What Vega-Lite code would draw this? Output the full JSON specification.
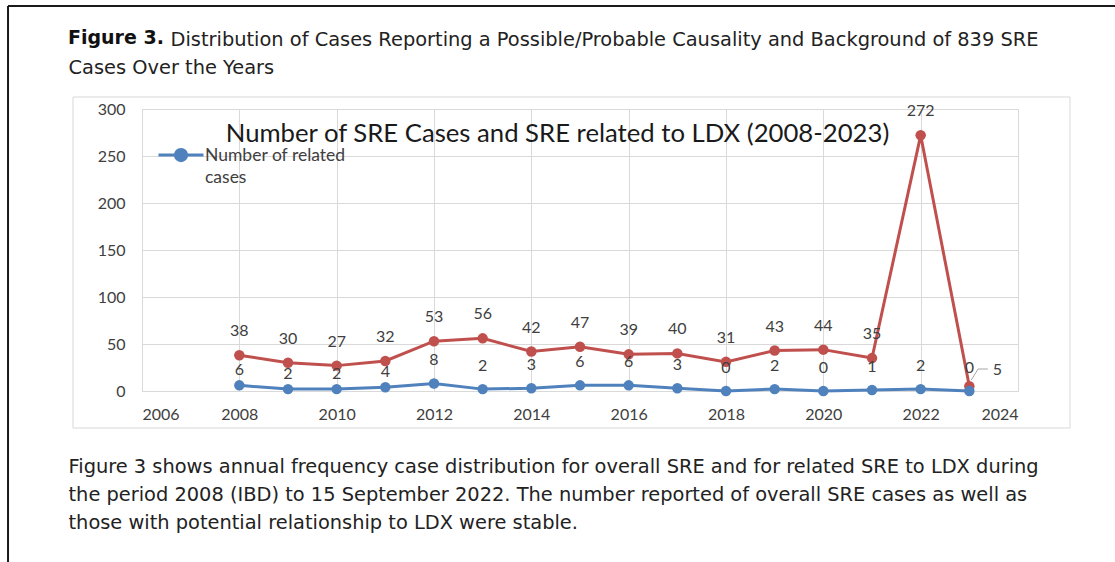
{
  "$schema": "https://vega.github.io/schema/vega-lite/v6.json",
  "width": 876,
  "height": 282,
  "autosize": "none",
  "padding": {"left": 142, "top": 109, "right": 97, "bottom": 171},
  "background": "white",
  "config": {
    "view": {"stroke": null},
    "axis": {
      "labelFont": "Lato", "labelFontSize": 16, "labelColor": "#404040",
      "ticks": false, "tickSize": 0,
      "gridColor": "#d9d9d9", "gridWidth": 1,
      "domainColor": "#d9d9d9", "domainWidth": 1,
      "titleFontWeight": "normal"
    }
  },
  "datasets": {
    "sre": [
      {"year": 2008, "total": 38, "related": 6},
      {"year": 2009, "total": 30, "related": 2},
      {"year": 2010, "total": 27, "related": 2},
      {"year": 2011, "total": 32, "related": 4},
      {"year": 2012, "total": 53, "related": 8},
      {"year": 2013, "total": 56, "related": 2},
      {"year": 2014, "total": 42, "related": 3},
      {"year": 2015, "total": 47, "related": 6},
      {"year": 2016, "total": 39, "related": 6},
      {"year": 2017, "total": 40, "related": 3},
      {"year": 2018, "total": 31, "related": 0},
      {"year": 2019, "total": 43, "related": 2},
      {"year": 2020, "total": 44, "related": 0},
      {"year": 2021, "total": 35, "related": 1},
      {"year": 2022, "total": 272, "related": 2},
      {"year": 2023, "total": 5, "related": 0}
    ]
  },
  "data": {"name": "sre"},
  "title": {
    "text": "Figure 3.",
    "anchor": "start",
    "frame": "group",
    "orient": "top",
    "font": "DejaVu Sans",
    "fontSize": 19,
    "fontWeight": "bold",
    "color": "#111111",
    "baseline": "alphabetic",
    "dx": -74,
    "offset": -58
  },
  "layer": [
    {
      "data": {"values": [{}]},
      "mark": {"type": "rect", "filled": false, "stroke": "#d9d9d9", "strokeWidth": 1},
      "encoding": {
        "x": {"datum": 2004.582, "type": "quantitative", "scale": {"domain": [2006, 2024], "nice": false, "zero": false}, "axis": null},
        "x2": {"datum": 2025.068},
        "y": {"datum": 312.77, "type": "quantitative", "scale": {"domain": [0, 300], "nice": false}, "axis": null},
        "y2": {"datum": -39.36}
      }
    },
    {
      "data": {"values": [{}]},
      "mark": {"type": "rule", "color": "#1a1a1a", "strokeWidth": 2},
      "encoding": {
        "x": {"datum": 2003.247, "type": "quantitative", "scale": {"domain": [2006, 2024], "nice": false, "zero": false}, "axis": null},
        "y": {"datum": 409.57, "type": "quantitative", "scale": {"domain": [0, 300], "nice": false}, "axis": null},
        "y2": {"datum": -200}
      }
    },
    {
      "data": {"values": [{}]},
      "mark": {"type": "rule", "color": "#1a1a1a", "strokeWidth": 2},
      "encoding": {
        "x": {"datum": 2003.247, "type": "quantitative", "scale": {"domain": [2006, 2024], "nice": false, "zero": false}, "axis": null},
        "x2": {"datum": 2027},
        "y": {"datum": 409.57, "type": "quantitative", "scale": {"domain": [0, 300], "nice": false}, "axis": null}
      }
    },
    {
      "data": {"values": [{}]},
      "mark": {"type": "rule", "color": "#a6a6a6", "strokeWidth": 1},
      "encoding": {
        "x": {"datum": 2023.04, "type": "quantitative", "scale": {"domain": [2006, 2024], "nice": false, "zero": false}, "axis": null},
        "x2": {"datum": 2023.18},
        "y": {"datum": 11.7, "type": "quantitative", "scale": {"domain": [0, 300], "nice": false}, "axis": null},
        "y2": {"datum": 23.4}
      }
    },
    {
      "data": {"values": [{}]},
      "mark": {"type": "rule", "color": "#a6a6a6", "strokeWidth": 1},
      "encoding": {
        "x": {"datum": 2023.18, "type": "quantitative", "scale": {"domain": [2006, 2024], "nice": false, "zero": false}, "axis": null},
        "x2": {"datum": 2023.38},
        "y": {"datum": 23.4, "type": "quantitative", "scale": {"domain": [0, 300], "nice": false}, "axis": null}
      }
    },
    {
      "mark": {"type": "line", "color": "#c0504d", "strokeWidth": 3, "point": {"filled": true, "size": 110, "color": "#c0504d"}},
      "encoding": {
        "x": {
          "field": "year", "type": "quantitative",
          "scale": {"domain": [2006, 2024], "nice": false, "zero": false},
          "axis": {
            "orient": "bottom",
            "values": [2006, 2008, 2010, 2012, 2014, 2016, 2018, 2020, 2022, 2024],
            "format": "d",
            "grid": true,
            "labelPadding": 15,
            "title": [
              "Figure 3 shows annual frequency case distribution for overall SRE and for related SRE to LDX during",
              "the period 2008 (IBD) to 15 September 2022. The number reported of overall SRE cases as well as",
              "those with potential relationship to LDX were stable."
            ],
            "titleFont": "DejaVu Sans", "titleFontSize": 19.4, "titleColor": "#222222",
            "titleAlign": "left", "titleAnchor": "start", "titleBaseline": "alphabetic",
            "titleX": -74, "titleY": 81, "titleLineHeight": 28
          }
        },
        "y": {
          "field": "total", "type": "quantitative",
          "scale": {"domain": [0, 300], "nice": false},
          "axis": {
            "orient": "left",
            "values": [0, 50, 100, 150, 200, 250, 300],
            "grid": true,
            "labelPadding": 17,
            "title": "Cases Over the Years",
            "titleFont": "DejaVu Sans", "titleFontSize": 19.4, "titleColor": "#222222",
            "titleAngle": 0, "titleAlign": "left", "titleBaseline": "alphabetic",
            "titleX": -74, "titleY": -36
          }
        }
      }
    },
    {
      "mark": {"type": "line", "strokeWidth": 3, "point": {"filled": true, "size": 110}},
      "encoding": {
        "x": {
          "field": "year", "type": "quantitative",
          "scale": {"domain": [2006, 2024], "nice": false, "zero": false},
          "axis": {
            "orient": "top", "labels": false, "domain": false, "grid": false,
            "title": "Number of SRE Cases and SRE related to LDX (2008-2023)",
            "titleFont": "Lato", "titleFontSize": 25.7, "titleColor": "#1a1a1a",
            "titleAlign": "center", "titleBaseline": "alphabetic",
            "titleX": 415, "titleY": 32
          }
        },
        "y": {
          "field": "related", "type": "quantitative",
          "scale": {"domain": [0, 300], "nice": false},
          "axis": {
            "orient": "right", "labels": false, "domain": false, "grid": false,
            "title": "Distribution of Cases Reporting a Possible/Probable Causality and Background of 839 SRE",
            "titleFont": "DejaVu Sans", "titleFontSize": 19.4, "titleColor": "#222222",
            "titleAngle": 0, "titleAlign": "left", "titleBaseline": "alphabetic",
            "titleX": -848, "titleY": -64
          }
        },
        "color": {
          "datum": "Number of related cases",
          "scale": {"range": ["#4f81bd"]},
          "legend": {
            "orient": "none", "legendX": 15, "legendY": 22, "title": null, "padding": 0,
            "symbolType": "M-1,0H1M-0.25,0A0.25,0.25,0,1,1,0.25,0A0.25,0.25,0,1,1,-0.25,0Z",
            "symbolSize": 2025, "symbolStrokeWidth": 3,
            "symbolFillColor": "#4f81bd", "symbolStrokeColor": "#4f81bd",
            "labelFont": "Lato", "labelFontSize": 17.5, "labelColor": "#404040",
            "labelOffset": 0, "labelBaseline": "alphabetic",
            "labelExpr": "['Number of related', 'cases']",
            "labelLimit": 300,
            "encode": {"symbols": {"update": {"fill": {"value": "#4f81bd"}, "stroke": {"value": "#4f81bd"}}}, "labels": {"update": {"dy": {"value": 6}, "lineHeight": {"value": 22}}}}
          }
        }
      }
    },
    {
      "transform": [{"filter": "datum.year < 2023"}],
      "mark": {"type": "text", "font": "Lato", "fontSize": 16, "color": "#404040", "dy": -24, "baseline": "middle"},
      "encoding": {
        "x": {"field": "year", "type": "quantitative", "scale": {"domain": [2006, 2024], "nice": false, "zero": false}, "axis": null},
        "y": {"field": "total", "type": "quantitative", "scale": {"domain": [0, 300], "nice": false}, "axis": null},
        "text": {"field": "total", "type": "quantitative"}
      }
    },
    {
      "transform": [{"filter": "datum.year == 2023"}],
      "mark": {"type": "text", "font": "Lato", "fontSize": 16, "color": "#404040", "dx": 28, "dy": -16, "baseline": "middle"},
      "encoding": {
        "x": {"field": "year", "type": "quantitative", "scale": {"domain": [2006, 2024], "nice": false, "zero": false}, "axis": null},
        "y": {"field": "total", "type": "quantitative", "scale": {"domain": [0, 300], "nice": false}, "axis": null},
        "text": {"field": "total", "type": "quantitative"}
      }
    },
    {
      "transform": [{"filter": "datum.year <= 2011"}],
      "mark": {"type": "text", "font": "Lato", "fontSize": 16, "color": "#404040", "dy": -15, "baseline": "middle"},
      "encoding": {
        "x": {"field": "year", "type": "quantitative", "scale": {"domain": [2006, 2024], "nice": false, "zero": false}, "axis": null},
        "y": {"field": "related", "type": "quantitative", "scale": {"domain": [0, 300], "nice": false}, "axis": null},
        "text": {"field": "related", "type": "quantitative"}
      }
    },
    {
      "transform": [{"filter": "datum.year > 2011"}],
      "mark": {"type": "text", "font": "Lato", "fontSize": 16, "color": "#404040", "dy": -23, "baseline": "middle"},
      "encoding": {
        "x": {"field": "year", "type": "quantitative", "scale": {"domain": [2006, 2024], "nice": false, "zero": false}, "axis": null},
        "y": {"field": "related", "type": "quantitative", "scale": {"domain": [0, 300], "nice": false}, "axis": null},
        "text": {"field": "related", "type": "quantitative"}
      }
    }
  ],
  "resolve": {"axis": {"x": "independent", "y": "independent"}}
}
